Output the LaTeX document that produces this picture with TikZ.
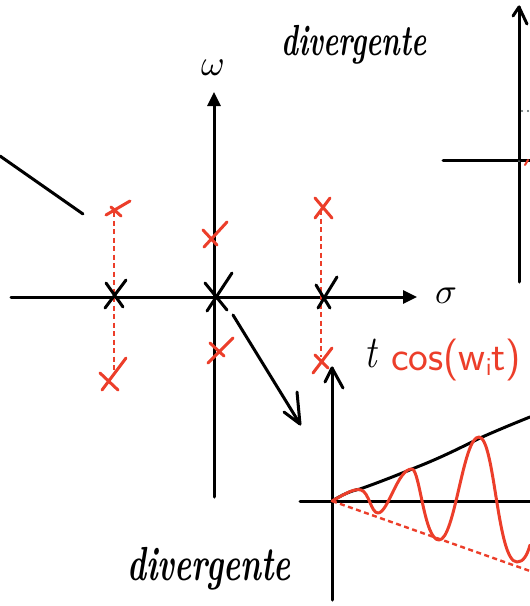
\documentclass[tikz,border=0pt]{standalone}
\usepackage{graphicx}
\usetikzlibrary{arrows.meta}
\definecolor{penred}{RGB}{236,62,42}
\definecolor{dotgray}{RGB}{90,100,100}
\begin{document}
\begin{tikzpicture}[x=1pt,y=-1pt, line cap=round, line join=round,
  ink/.style={line width=3pt,black},
  rink/.style={line width=3pt,penred},
  rdash/.style={line width=2.2pt,penred,dash pattern=on 5pt off 3.5pt,line cap=butt},
  axarrow/.style={ink,-{Triangle[length=14pt,width=13pt]}},
  hand/.style={inner sep=0pt,font=\bfseries\itshape\fontsize{30}{30}\selectfont}]
\useasboundingbox (0,0) rectangle (530,606);

% ---- main s-plane axes
\coordinate (sL) at (11,297);
\coordinate (sR) at (417,297);
\coordinate (wB) at (214,497);
\coordinate (wT) at (214,92);
\draw[axarrow] (sL) -- (sR);
\draw[axarrow] (wB) -- (wT);
\node[inner sep=0pt] (sig) at (446,296) {\scalebox{3.6}{$\sigma$}};
\node[inner sep=0pt] (om) at (213,68) {\scalebox{3.6}{$\omega$}};

% ---- dashed red links
\coordinate (lt) at (114,212);
\coordinate (lb) at (114,374);
\coordinate (rt) at (321,210);
\coordinate (rb) at (321,357);
\draw[rdash] (lt) -- (lb);
\draw[rdash] (rt) -- (rb);

% ---- black crosses on real axis
\draw[ink] (106,283) -- (123,307) (105,308) -- (126,280);
\draw[ink] (205,283) -- (227,310) (207,311) -- (232,273);
\draw[ink] (316,285) -- (330,308) (318,308) -- (337,277);

% ---- red crosses
\draw[rink] (106,215) -- (130,201) (111,207) -- (121,216);
\draw[rink] (102,390) -- (126,358) (100,373) -- (118,390);
\draw[rink] (204,247) -- (227,222) (203,230) -- (217,245);
\draw[rink] (208,363) -- (233,338) (210,343) -- (224,356);
\draw[rink] (315,198) -- (332,218) (330,198) -- (315,218);
\draw[rink] (313,373) -- (332,348) (315,355) -- (328,368);

% ---- pointer line upper left
\coordinate (p1) at (0,156);
\coordinate (p2) at (83,214);
\draw[ink] (p1) -- (p2);

% ---- arrow to lower plot
\coordinate (a1) at (233,315);
\coordinate (a2) at (300,424);
\coordinate (a3) at (297,392);
\coordinate (a4) at (284,412);
\draw[ink] (a1) -- (a2);
\draw[ink] (a3) -- (a2) -- (a4);

% ---- labels
\node[hand] (div1) at (354,45) {\scalebox{0.95}[1.45]{divergente}};
\node[hand,font=\bfseries\itshape\fontsize{33}{33}\selectfont] (div2) at (209,569) {\scalebox{0.97}[1.45]{divergente}};
\node[hand,font=\itshape\fontsize{38}{38}\selectfont] (tlab) at (371,353) {\scalebox{1}[1.2]{t}};
\node[inner sep=0pt,text=penred,font=\sffamily\fontsize{42}{42}\selectfont,anchor=west] (cos) at (391,360) {cos(w\raisebox{-0.12em}{\fontsize{26}{26}\selectfont i}t)};

% ---- top-right small plot
\coordinate (tb) at (519,282);
\coordinate (tt) at (519,7);
\coordinate (th1) at (513,16);
\coordinate (th2) at (527,24);
\coordinate (hl) at (443,160);
\coordinate (hr) at (530,160);
\draw[ink] (tb) -- (tt);
\draw[ink] (th1) -- (tt) -- (th2);
\draw[ink] (hl) -- (hr);
\fill[dotgray] (522,111) circle (1.2pt) (528,111) circle (1.2pt) (519,161) circle (1pt);
\draw[rink,line width=2pt] (525,165) -- (528,160);

% ---- bottom-right plot
\coordinate (o) at (332,501);
\coordinate (vb) at (332,600);
\coordinate (vt) at (332,368);
\coordinate (vh1) at (325,382);
\coordinate (vh2) at (343,388);
\coordinate (xl) at (300,501);
\coordinate (xr) at (530,501);
\draw[ink] (vb) -- (vt);
\draw[ink] (vh1) -- (vt) -- (vh2);
\draw[ink] (xl) -- (xr);
% envelope
\draw[ink] (o) .. controls (342,495) and (350,491) .. (360,489)
  .. controls (380,482) and (400,474) .. (417,467)
  .. controls (440,458) and (460,448) .. (480,438)
  .. controls (498,430) and (515,423) .. (530,417);
% lower dashed envelope
\coordinate (de) at (530,571);
\draw[rdash,line width=2.4pt] (o) -- (de);
% oscillation
\draw[rink] (o) .. controls (345,494) and (354,488) .. (361,490)
  .. controls (369,492) and (371,513) .. (378,513)
  .. controls (388,513) and (398,468) .. (412,469)
  .. controls (420,470) and (424,540) .. (439,540)
  .. controls (455,540) and (463,436) .. (479,437)
  .. controls (495,438) and (497,562) .. (517,562)
  .. controls (523,562) and (527,556) .. (530,545);
\end{tikzpicture}
\end{document}
